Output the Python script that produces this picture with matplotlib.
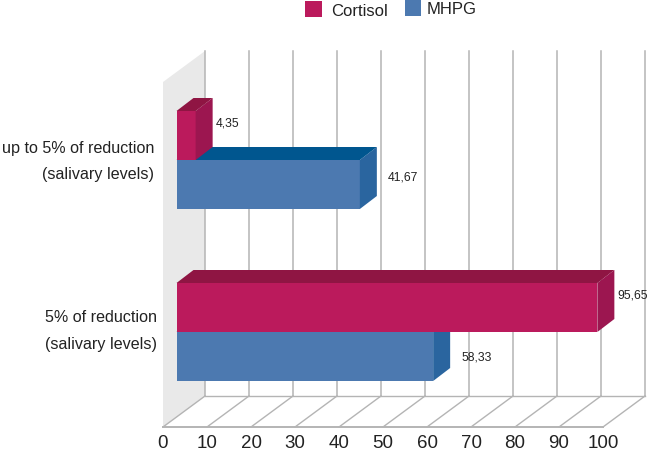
import matplotlib
matplotlib.use("Agg")
import matplotlib.pyplot as plt
from matplotlib.patches import Polygon, Rectangle

plt.rcParams["font.family"] = ["Liberation Sans", "DejaVu Sans"]

ticks = [0, 10, 20, 30, 40, 50, 60, 70, 80, 90, 100]
group_labels = ["up to 5% of reduction\n(salivary levels)", "5% of reduction\n(salivary levels)"]
cortisol = [4.35, 95.65]
mhpg = [41.67, 58.33]
cortisol_text = ["4,35", "95,65"]
mhpg_text = ["41,67", "58,33"]

# pixel layout of the fake 3d box
PX_PER_UNIT = 4.4
FRONT_X0 = 163
FLOOR_Y = 427
BACK_DX = 42
BACK_DY = -31
TOP_Y = 51
BAR_X0 = 176.5
BAR_DX = 17
BAR_DY = -13
BAR_H = 49
GROUP_TOPS = [111, 283]

CORTISOL_COLS = ("#BB1A5C", "#9C1650", "#8F1543")
MHPG_COLS = ("#4C79B0", "#2A659F", "#00568F")
GRID = "#B4B4B4"
TEXT = "#222222"


def scale(v):
    return v * PX_PER_UNIT


def draw_bar(ax, value, top, cols, zorder):
    """front, side and top faces of one horizontal bar"""
    right = BAR_X0 + scale(value)
    bottom = top + BAR_H
    front, side, lid = cols
    ax.add_patch(Polygon([(BAR_X0, top), (right, top), (right, bottom), (BAR_X0, bottom)],
                         fc=front, ec="none", zorder=zorder))
    ax.add_patch(Polygon([(right, top), (right + BAR_DX, top + BAR_DY),
                          (right + BAR_DX, bottom + BAR_DY), (right, bottom)],
                         fc=side, ec="none", zorder=zorder))
    ax.add_patch(Polygon([(BAR_X0, top), (BAR_X0 + BAR_DX, top + BAR_DY),
                          (right + BAR_DX, top + BAR_DY), (right, top)],
                         fc=lid, ec="none", zorder=zorder))
    return right + BAR_DX


fig = plt.figure(figsize=(6.5, 4.51), dpi=100)
ax = fig.add_axes([0, 0, 1, 1])
ax.set_xlim(0, 650)
ax.set_ylim(451, 0)
ax.axis("off")

# side wall
back_x0 = FRONT_X0 + BACK_DX
back_y = FLOOR_Y + BACK_DY
ax.add_patch(Polygon([(FRONT_X0, FLOOR_Y), (back_x0, back_y), (back_x0, TOP_Y), (FRONT_X0, TOP_Y - BACK_DY)],
                     fc="#E9E9E9", ec="none", zorder=1))

# grid and floor
for t in ticks:
    fx = FRONT_X0 + scale(t)
    ax.plot([fx + BACK_DX, fx + BACK_DX], [TOP_Y, back_y], color=GRID, lw=1.1, zorder=2)
    ax.plot([fx, fx + BACK_DX], [FLOOR_Y, back_y], color=GRID, lw=1.0, zorder=2)
    ax.text(fx, 444, str(t), ha="center", va="center", fontsize=13.5, color=TEXT)
ax.plot([FRONT_X0, FRONT_X0 + scale(100)], [FLOOR_Y, FLOOR_Y], color=GRID, lw=1.4, zorder=2)
ax.plot([back_x0, back_x0 + scale(100)], [back_y, back_y], color=GRID, lw=1.0, zorder=2)

# bars, blue first so the red side covers the blue lid
label_y_c = [12, 12]
label_y_m = [17, 26]
for i, top in enumerate(GROUP_TOPS):
    mid = top + BAR_H
    end_m = draw_bar(ax, mhpg[i], mid, MHPG_COLS, 3)
    end_c = draw_bar(ax, cortisol[i], top, CORTISOL_COLS, 4)
    ax.text(end_c + 3.5, top + label_y_c[i], cortisol_text[i], fontsize=8.8, va="center", color=TEXT, zorder=5)
    ax.text(end_m + 11, mid + label_y_m[i], mhpg_text[i], fontsize=8.8, va="center", color=TEXT, zorder=5)

# category labels
label_rows = [(148, 174), (318, 344)]
label_right = [154, 157]
for lab, rows, right in zip(group_labels, label_rows, label_right):
    first, second = lab.split("\n")
    ax.text(right, rows[0], first, ha="right", va="center", fontsize=11.6, color=TEXT)
    ax.text(right, rows[1], second, ha="right", va="center", fontsize=11.6, color=TEXT)

# legend
ax.add_patch(Rectangle((305, 1), 17, 16, fc=CORTISOL_COLS[0], ec="none"))
ax.add_patch(Rectangle((405, 0), 16, 16, fc=MHPG_COLS[0], ec="none"))
ax.text(331, 12, "Cortisol", va="center", fontsize=12, color=TEXT)
ax.text(427, 10, "MHPG", va="center", fontsize=12, color=TEXT)

fig.savefig("out.png", dpi=100)
